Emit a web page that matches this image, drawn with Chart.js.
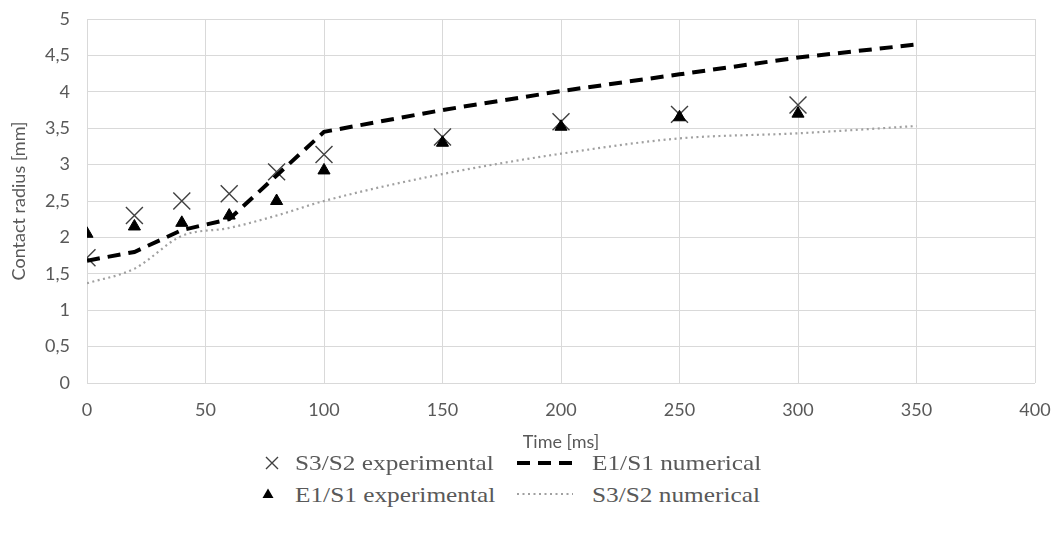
<!DOCTYPE html>
<html>
<head>
<meta charset="utf-8">
<script src="https://cdn.jsdelivr.net/npm/chart.js@4.4.0/dist/chart.umd.min.js"></script>
<style>
  html,body{margin:0;padding:0;background:#fff;}
  #wrap{position:relative;width:1054px;height:535px;}
  #cw{position:absolute;left:0;top:0;width:1054px;height:455px;}
  .lg{position:absolute;font-family:"Liberation Serif","Times New Roman",serif;font-size:22px;color:#595959;white-space:nowrap;transform:scaleX(1.15);transform-origin:0 50%;line-height:24px;}
  .mk{position:absolute;}
</style>
</head>
<body>
<div id="wrap">
  <div id="cw"><canvas id="c"></canvas></div>
  <svg class="mk" style="left:262px;top:453px" width="20" height="20"><path d="M4 4 L16 16 M16 4 L4 16" stroke="#404040" stroke-width="1.4"/></svg>
  <div class="lg" style="left:295px;top:451px">S3/S2 experimental</div>
  <svg class="mk" style="left:515px;top:453px" width="60" height="20"><line x1="2" y1="10" x2="58" y2="10" stroke="#000" stroke-width="4" stroke-dasharray="13,8"/></svg>
  <div class="lg" style="left:592px;top:451px">E1/S1 numerical</div>
  <svg class="mk" style="left:258px;top:484px" width="20" height="20"><path d="M10 4.5 L15.5 14 L4.5 14 Z" fill="#000"/></svg>
  <div class="lg" style="left:295px;top:483px">E1/S1 experimental</div>
  <svg class="mk" style="left:515px;top:484px" width="60" height="20"><line x1="2" y1="10" x2="58" y2="10" stroke="#a0a0a0" stroke-width="2.2" stroke-dasharray="2,3.5"/></svg>
  <div class="lg" style="left:592px;top:483px">S3/S2 numerical</div>
</div>
<script>
const expTime = [0, 20, 40, 60, 80, 100, 150, 200, 250, 300];
const s3s2Exp = [1.72, 2.3, 2.5, 2.6, 2.9, 3.14, 3.38, 3.59, 3.69, 3.82];
const e1s1Exp = [2.05, 2.15, 2.2, 2.3, 2.5, 2.92, 3.3, 3.52, 3.65, 3.7];
const numTime = [0, 20, 40, 60, 80, 100, 150, 200, 250, 300, 350];
const e1s1Num = [1.68, 1.8, 2.1, 2.25, 2.85, 3.45, 3.75, 4.01, 4.24, 4.47, 4.65];
const s3s2Num = [1.37, 1.57, 2.02, 2.13, 2.3, 2.5, 2.87, 3.15, 3.36, 3.43, 3.53];
const xTicks = [0, 50, 100, 150, 200, 250, 300, 350, 400];
const yTicks = [0, 0.5, 1, 1.5, 2, 2.5, 3, 3.5, 4, 4.5, 5];

const pts = (xs, ys) => xs.map((x, i) => ({x: x, y: ys[i]}));
const tickFont = {family: "Lato, 'Open Sans', 'DejaVu Sans', sans-serif", size: 18};
const grey = '#595959';

new Chart(document.getElementById('c'), {
  type: 'scatter',
  data: {
    datasets: [
      {label: 'S3/S2 numerical', data: pts(numTime, s3s2Num), showLine: true, borderColor: '#a0a0a0', borderWidth: 2.2, borderDash: [2, 3.5], pointRadius: 0, cubicInterpolationMode: 'monotone', fill: false},
      {label: 'E1/S1 numerical', data: pts(numTime, e1s1Num), showLine: true, borderColor: '#000', borderWidth: 4, borderDash: [13, 8], pointRadius: 0, tension: 0, fill: false},
      {label: 'E1/S1 experimental', data: pts(expTime, e1s1Exp), pointStyle: 'triangle', pointRadius: 7, backgroundColor: '#000', borderColor: '#000', borderWidth: 1},
      {label: 'S3/S2 experimental', data: pts(expTime, s3s2Exp), pointStyle: 'crossRot', pointRadius: 12, borderColor: '#404040', borderWidth: 1.4, backgroundColor: 'transparent'}
    ]
  },
  options: {
    responsive: true,
    maintainAspectRatio: false,
    animation: false,
    layout: {padding: {left: 0, right: 19, top: 19, bottom: 0}},
    plugins: {legend: {display: false}, tooltip: {enabled: false}},
    scales: {
      x: {
        type: 'linear', min: 0, max: 400,
        afterBuildTicks: s => { s.ticks = xTicks.map(v => ({value: v})); },
        grid: {color: '#d9d9d9', lineWidth: 1, drawTicks: false},
        border: {display: false},
        ticks: {color: grey, font: tickFont, padding: 16, maxRotation: 0},
        title: {display: true, text: 'Time [ms]', color: grey, font: tickFont, padding: {top: 4, bottom: 2}},
        afterFit: s => { s.height = 72; s.paddingLeft = 0; s.paddingRight = 0; }
      },
      y: {
        type: 'linear', min: 0, max: 5,
        afterBuildTicks: s => { s.ticks = yTicks.map(v => ({value: v})); },
        grid: {color: '#d9d9d9', lineWidth: 1, drawTicks: false},
        border: {display: false},
        ticks: {color: grey, font: tickFont, padding: 17, callback: v => String(v).replace('.', ',')},
        title: {display: true, text: 'Contact radius [mm]', color: grey, font: tickFont, padding: {top: 8, bottom: 0}},
        afterFit: s => { s.width = 87; s.paddingTop = 0; s.paddingBottom = 0; }
      }
    }
  }
});
</script>
</body>
</html>
